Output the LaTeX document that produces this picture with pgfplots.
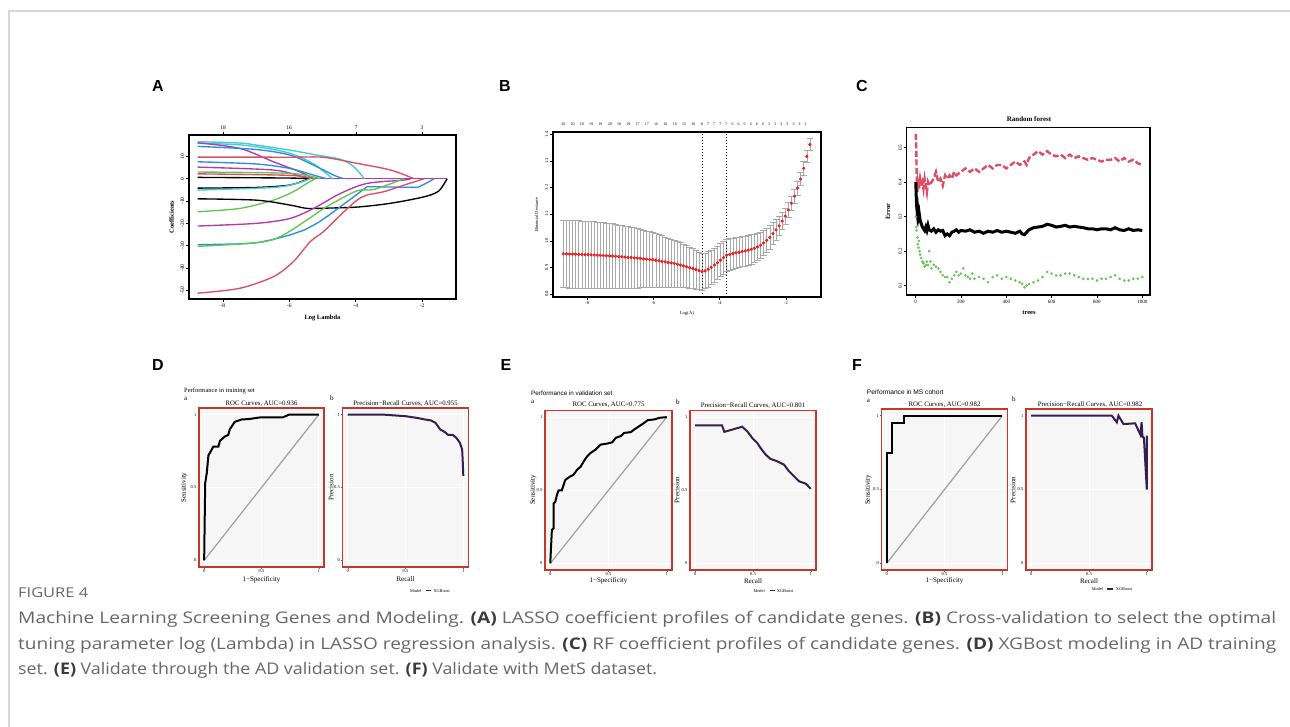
\documentclass[border=0pt]{standalone}
\usepackage{pgfplots}
\pgfplotsset{compat=1.18}
\usepackage{pgfplotstable}
\usepackage{fontspec}
\usepackage{graphicx}
\setmainfont{Liberation Serif}
\newfontfamily\arial{Liberation Sans}
\newfontfamily\capfont{Open Sans}
\newcommand{\fs}[1]{\fontsize{#1}{#1}\selectfont}
\definecolor{rred}{HTML}{DC4E65}
\definecolor{rgreen}{HTML}{5FC84E}
\definecolor{rblue}{HTML}{2A8FDB}
\definecolor{rcyan}{HTML}{45CAD3}
\definecolor{rmag}{HTML}{B23AAE}
\definecolor{ggframe}{HTML}{C0392B}
\definecolor{panelbg}{HTML}{F6F6F6}
\definecolor{diag}{HTML}{A39E99}
\definecolor{prline}{HTML}{33204F}
\definecolor{capgray}{HTML}{666666}
\definecolor{capdark}{HTML}{3A3A3A}
\definecolor{bordergray}{HTML}{D6D6D6}
\definecolor{cvred}{HTML}{F22020}
\definecolor{cvgray}{HTML}{A8A8A8}

\pgfplotsset{
 rstyle/.style={scale only axis, anchor=south west, axis line style={black, line width=1.1pt},
   tick align=outside, tick pos=left, major tick length=3pt,
   tick style={black, line width=0.5pt},
   yticklabel style={rotate=90, anchor=south, inner sep=1.5pt},
   xticklabel style={inner sep=1.5pt}},
 gg/.style={scale only axis, anchor=south west,
   axis background/.style={fill=panelbg},
   xmin=-0.045, xmax=1.045, ymin=-0.045, ymax=1.045,
   xtick={0,0.5,1}, ytick={0,0.5,1}, xticklabels={0,0.5,1}, yticklabels={0,0.5,1},
   xmajorgrids=true, ymajorgrids=true, major grid style={white, line width=1pt},
   axis line style={ggframe, line width=1.6pt},
   tick align=outside, tick pos=left, major tick length=1.5pt,
   tick style={black!60, line width=0.4pt},
   ticklabel style={font=\fs{4.5}, inner sep=1pt}},
 lasso/.style={line width=1.35pt},
}

\pgfplotstableread{
x y e
-8.720 .951 .127
-8.627 .951 .127
-8.534 .950 .127
-8.441 .950 .127
-8.348 .950 .127
-8.255 .949 .127
-8.162 .949 .126
-8.069 .948 .126
-7.976 .948 .126
-7.883 .947 .125
-7.790 .947 .125
-7.697 .946 .124
-7.604 .945 .124
-7.511 .945 .123
-7.418 .944 .122
-7.325 .943 .122
-7.232 .943 .121
-7.139 .942 .120
-7.046 .941 .119
-6.953 .940 .118
-6.860 .939 .117
-6.767 .938 .116
-6.674 .937 .115
-6.581 .936 .113
-6.488 .935 .112
-6.395 .934 .110
-6.302 .932 .108
-6.209 .931 .106
-6.116 .930 .104
-6.023 .929 .102
-5.930 .927 .100
-5.837 .925 .098
-5.744 .923 .096
-5.651 .921 .094
-5.558 .919 .092
-5.465 .917 .090
-5.372 .915 .088
-5.279 .912 .086
-5.186 .909 .084
-5.093 .906 .081
-5.000 .903 .079
-4.907 .899 .077
-4.814 .896 .075
-4.721 .892 .073
-4.628 .888 .070
-4.535 .884 .068
-4.442 .887 .067
-4.349 .893 .066
-4.256 .900 .065
-4.163 .909 .064
-4.070 .918 .063
-3.977 .927 .062
-3.884 .937 .061
-3.791 .946 .060
-3.698 .949 .059
-3.605 .952 .058
-3.512 .955 .058
-3.419 .957 .057
-3.326 .960 .057
-3.233 .962 .056
-3.140 .965 .056
-3.047 .968 .055
-2.954 .972 .054
-2.861 .977 .052
-2.768 .983 .050
-2.675 .992 .048
-2.582 1.002 .046
-2.489 1.013 .044
-2.396 1.027 .041
-2.303 1.041 .038
-2.210 1.056 .035
-2.117 1.074 .032
-2.024 1.093 .030
-1.931 1.116 .029
-1.838 1.141 .028
-1.745 1.168 .027
-1.652 1.198 .026
-1.559 1.232 .025
-1.466 1.272 .025
-1.373 1.317 .024
-1.280 1.362 .023
}\cvdata

\newcommand{\capone}{Machine Learning Screening Genes and Modeling. \textcolor{capdark}{\textbf{(A)}} LASSO coefficient profiles of candidate genes. \textcolor{capdark}{\textbf{(B)}} Cross-validation to select the optimal}
\newcommand{\captwo}{tuning parameter log (Lambda) in LASSO regression analysis. \textcolor{capdark}{\textbf{(C)}} RF coefficient profiles of candidate genes. \textcolor{capdark}{\textbf{(D)}} XGBost modeling in AD training}
\newcommand{\capthree}{set. \textcolor{capdark}{\textbf{(E)}} Validate through the AD validation set. \textcolor{capdark}{\textbf{(F)}} Validate with MetS dataset.}

\begin{document}
\begin{tikzpicture}
\path[use as bounding box] (0pt,0pt) rectangle (1290pt,-727pt);
\fill[white] (0pt,0pt) rectangle (1290pt,-727pt);

% ---------------- A: LASSO coefficient paths
\begin{axis}[rstyle, at={(189pt,-299pt)}, width=267pt, height=164pt,
  xmin=-9.02, xmax=-0.98, ymin=-53.9, ymax=19.6,
  xtick={-8,-6,-4,-2}, xticklabels={-8,-6,-4,-2},
  ytick={-50,-40,-30,-20,-10,0,10}, yticklabels={-50,-40,-30,-20,-10,0,10},
  ticklabel style={font=\fs{5.5}}]
\addplot[rmag, lasso] coordinates {(-5.6,0)(-1.25,0)};
\addplot[rcyan, lasso, smooth] coordinates {(-8.76,16.6)(-7.5,16.0)(-6.99,15.1)(-5.98,12.8)(-5.17,10.6)(-4.46,8.7)(-4.06,5.4)(-3.74,0)};
\addplot[rcyan, lasso, smooth] coordinates {(-8.76,15.9)(-7.5,15.2)(-6.5,13.2)(-5.8,10.5)(-5.2,6)(-4.7,0)};
\addplot[rmag, lasso, smooth] coordinates {(-8.76,16.1)(-7.49,13.6)(-6.48,7.6)(-5.68,3.1)(-5.27,0)};
\addplot[rblue, lasso, smooth] coordinates {(-8.76,14.5)(-6.99,13.1)(-5.98,10.6)(-5.27,6.1)(-4.66,1.6)(-4.36,0)};
\addplot[rred, lasso, smooth] coordinates {(-8.76,9.7)(-6,9.65)(-4.97,9.6)(-3.96,6.9)(-2.95,3.9)(-2.24,0)};
\addplot[rblue, lasso, smooth] coordinates {(-8.76,7.6)(-6.99,6.6)(-5.98,4.6)(-5.27,1.6)(-4.87,0)};
\addplot[rmag, lasso, smooth] coordinates {(-8.76,5.2)(-6.48,3.9)(-5.68,1.2)(-5.37,0)};
\addplot[rgreen, lasso, smooth] coordinates {(-8.76,3.0)(-5.98,2.4)(-5.07,0)};
\addplot[rred, lasso, smooth] coordinates {(-8.76,2.2)(-5.98,1.5)(-5.27,0)};
\addplot[black, lasso, smooth] coordinates {(-8.76,0.6)(-5.98,0.3)(-5.47,0)};
\addplot[black, lasso, smooth] coordinates {(-8.76,-4.2)(-6.99,-3.9)(-5.98,-2.8)(-5.42,0)};
\addplot[rcyan, lasso, smooth] coordinates {(-8.76,-5.1)(-6.48,-3.9)(-5.78,-2.1)(-5.37,0)};
\addplot[rgreen, lasso, smooth] coordinates {(-8.76,-14.8)(-7.49,-13.3)(-6.48,-9.6)(-5.88,-5.8)(-5.47,-2.1)(-5.22,0)};
\addplot[black, lasso, smooth] coordinates {(-8.76,-9)(-6.99,-9.6)(-5.98,-11.8)(-5.47,-13.3)(-4.97,-13.2)(-3.96,-12.7)(-2.95,-11.0)(-1.94,-8.1)(-1.5,-5.5)(-1.25,0)};
\addplot[rmag, lasso, smooth] coordinates {(-8.76,-21.2)(-6.99,-20)(-5.98,-17.8)(-5.27,-13.3)(-4.46,-6.6)(-3.66,-2.1)(-2.55,-0.6)(-2.35,0)};
\addplot[rblue, lasso] coordinates {(-8.76,-29.6)(-7.5,-29.2)(-6.99,-28.7)(-6.5,-27.3)(-5.98,-25.2)(-5.55,-23)(-5.17,-20)(-4.8,-16.3)(-4.46,-12.5)(-4.05,-8)(-3.66,-3.6)(-3.45,-3.6)(-2.14,-3.9)(-1.9,-2.2)(-1.64,0)};
\addplot[rgreen, lasso, smooth] coordinates {(-8.76,-30.3)(-6.99,-28.7)(-6.28,-26)(-5.47,-18.5)(-4.87,-12.5)(-3.96,-5.4)(-3.45,-4.8)(-2.55,0)};
\addplot[rred, lasso, smooth] coordinates {(-8.76,-51.3)(-7.49,-49.1)(-6.48,-43.9)(-5.88,-37.2)(-5.37,-28.2)(-4.97,-23.7)(-4.46,-16.3)(-3.96,-9.6)(-3.66,-7.3)(-3.15,-5.8)(-2.45,-2.4)(-1.94,0)};
\end{axis}

% ---------------- B: cross-validation
\begin{axis}[rstyle, at={(553pt,-297pt)}, width=268pt, height=165pt,
  xmin=-9.03, xmax=-0.945, ymin=0.789, ymax=1.4086,
  xtick={-8,-6,-4,-2}, xticklabels={-8,-6,-4,-2},
  ytick={0.8,0.9,1.0,1.1,1.2,1.3,1.4}, yticklabels={0.8,0.9,1.0,1.1,1.2,1.3,1.4},
  ticklabel style={font=\fs{4.5}}]
\addplot[only marks, mark=*, mark size=1.25pt, color=cvred,
  error bars/.cd, y dir=both, y explicit, error mark=none,
  error bar style={cvgray, line width=0.5pt}]
  table[x=x, y=y, y error=e] {\cvdata};
\addplot[only marks, mark=-, mark size=3.3pt, cvgray, mark options={line width=0.6pt}]
  table[x=x, y expr=\thisrow{y}+\thisrow{e}] {\cvdata};
\addplot[only marks, mark=-, mark size=3.3pt, cvgray, mark options={line width=0.6pt}]
  table[x=x, y expr=\thisrow{y}-\thisrow{e}] {\cvdata};
\addplot[only marks, mark=*, mark size=1.25pt, color=cvred]
  table[x=x, y=y] {\cvdata};
\draw[black, dotted, line width=1pt] (axis cs:-4.535,0.789) -- (axis cs:-4.535,1.4086);
\draw[black, dotted, line width=1pt] (axis cs:-3.791,0.789) -- (axis cs:-3.791,1.4086);
\end{axis}

% ---------------- C: random forest
\begin{axis}[rstyle, at={(906.7pt,-295pt)}, width=243.3pt, height=167.3pt,
  xmin=-39, xmax=1034, ymin=0.073, ymax=0.558,
  xtick={0,200,400,600,800,1000}, xticklabels={0,200,400,600,800,1000},
  ytick={0.1,0.2,0.3,0.4,0.5}, yticklabels={0.1,0.2,0.3,0.4,0.5},
  ticklabel style={font=\fs{5}}]
\addplot[rred, line width=2.4pt, dash pattern=on 6pt off 2.5pt] coordinates {(1,0.54)(3,0.50)(5,0.42)(8,0.37)(10,0.40)(15,0.38)(20,0.41)(25,0.39)(30,0.40)(35,0.38)(40,0.41)(45,0.39)(50,0.37)(55,0.40)(60,0.39)(70,0.40)(80,0.41)(90,0.43)(100,0.40)(110,0.41)(120,0.39)(130,0.42)(140,0.41)(150,0.42)(160,0.41)(170,0.43)(180,0.42)(200,0.43)(220,0.44)(240,0.43)(260,0.44)(280,0.43)(300,0.44)(320,0.45)(340,0.44)(360,0.45)(380,0.45)(400,0.44)(420,0.45)(440,0.46)(460,0.45)(480,0.46)(490,0.45)(500,0.47)(520,0.48)(540,0.49)(560,0.48)(580,0.49)(600,0.48)(620,0.475)(640,0.48)(660,0.47)(680,0.48)(700,0.47)(720,0.475)(740,0.47)(760,0.465)(780,0.47)(800,0.465)(820,0.46)(840,0.465)(860,0.465)(880,0.47)(900,0.46)(920,0.47)(940,0.46)(960,0.465)(980,0.455)(1000,0.45)};
\addplot[only marks, mark=*, mark size=1.1pt, rgreen] coordinates {(1,0.30)(3,0.27)(5,0.26)(8,0.24)(10,0.22)(13,0.21)(15,0.23)(18,0.2)(20,0.19)(25,0.18)(30,0.17)(35,0.165)(40,0.155)(45,0.16)(50,0.17)(55,0.16)(60,0.2)(65,0.17)(70,0.15)(80,0.16)(90,0.155)(100,0.15)(110,0.14)(120,0.13)(130,0.125)(140,0.125)(150,0.11)(160,0.12)(170,0.13)(180,0.14)(190,0.13)(200,0.135)(210,0.15)(220,0.13)(230,0.125)(240,0.12)(250,0.135)(260,0.12)(280,0.125)(300,0.12)(320,0.11)(340,0.125)(360,0.13)(380,0.12)(400,0.125)(420,0.12)(440,0.115)(460,0.11)(470,0.105)(480,0.095)(490,0.1)(500,0.105)(520,0.11)(540,0.115)(560,0.125)(580,0.14)(600,0.135)(620,0.13)(640,0.13)(660,0.135)(680,0.135)(700,0.13)(720,0.125)(740,0.12)(760,0.12)(780,0.12)(800,0.115)(820,0.12)(840,0.12)(860,0.125)(880,0.13)(900,0.12)(920,0.115)(940,0.115)(960,0.12)(980,0.12)(1000,0.125)};
\addplot[black, line width=3pt] coordinates {(1,0.40)(3,0.36)(5,0.33)(8,0.31)(10,0.32)(13,0.30)(16,0.31)(20,0.29)(25,0.28)(30,0.27)(35,0.265)(40,0.26)(45,0.27)(50,0.26)(55,0.275)(60,0.262)(70,0.258)(80,0.265)(90,0.255)(100,0.262)(110,0.258)(120,0.26)(130,0.245)(140,0.25)(150,0.245)(160,0.255)(170,0.258)(180,0.262)(190,0.255)(200,0.26)(220,0.258)(240,0.262)(260,0.255)(280,0.258)(300,0.252)(320,0.258)(340,0.255)(360,0.26)(380,0.255)(400,0.258)(420,0.255)(440,0.252)(460,0.258)(470,0.25)(480,0.248)(490,0.255)(500,0.262)(520,0.268)(540,0.27)(560,0.272)(580,0.278)(600,0.275)(620,0.27)(640,0.272)(660,0.275)(680,0.27)(700,0.272)(720,0.27)(740,0.268)(760,0.265)(780,0.265)(800,0.262)(820,0.265)(840,0.265)(860,0.262)(880,0.268)(900,0.262)(920,0.26)(940,0.265)(960,0.26)(980,0.262)(1000,0.26)};
\end{axis}

% ---------------- D
\begin{axis}[gg, at={(199pt,-567pt)}, width=125pt, height=159pt]
\addplot[diag, line width=1.2pt] coordinates {(0,0)(1,1)};
\addplot[black, line width=2pt] coordinates {(0,0)(0.005,0.3)(0.009,0.53)(0.023,0.6)(0.037,0.72)(0.066,0.76)(0.08,0.78)(0.124,0.78)(0.138,0.82)(0.181,0.85)(0.21,0.86)(0.224,0.9)(0.267,0.95)(0.325,0.966)(0.397,0.97)(0.483,0.98)(0.684,0.98)(0.713,0.99)(0.741,1)(1,1)};
\end{axis}
\begin{axis}[gg, at={(342.5pt,-567pt)}, width=126pt, height=159pt]
\addplot[prline, line width=2pt] coordinates {(0,1)(0.3,1)(0.5,0.989)(0.6,0.977)(0.67,0.966)(0.72,0.96)(0.76,0.943)(0.8,0.898)(0.84,0.88)(0.87,0.86)(0.91,0.86)(0.94,0.84)(0.97,0.807)(0.99,0.761)(0.995,0.682)(1.0,0.58)};
\end{axis}

% ---------------- E
\begin{axis}[gg, at={(545pt,-570pt)}, width=127pt, height=159.5pt]
\addplot[diag, line width=1.2pt] coordinates {(0,0)(1,1)};
\addplot[black, line width=2pt] coordinates {(0,0)(0.014,0.229)(0.029,0.24)(0.029,0.41)(0.043,0.42)(0.058,0.469)(0.072,0.5)(0.1,0.5)(0.115,0.538)(0.13,0.572)(0.173,0.595)(0.2,0.606)(0.23,0.64)(0.26,0.66)(0.288,0.698)(0.317,0.732)(0.346,0.755)(0.389,0.778)(0.432,0.812)(0.49,0.819)(0.533,0.828)(0.562,0.858)(0.605,0.87)(0.634,0.892)(0.692,0.897)(0.72,0.915)(0.764,0.938)(0.807,0.961)(0.836,0.979)(0.893,0.984)(0.937,0.995)(1,1)};
\end{axis}
\begin{axis}[gg, at={(690pt,-570pt)}, width=126pt, height=159.5pt]
\addplot[prline, line width=2pt] coordinates {(0,0.943)(0.232,0.943)(0.252,0.899)(0.406,0.934)(0.449,0.904)(0.493,0.858)(0.536,0.824)(0.565,0.789)(0.609,0.744)(0.652,0.714)(0.71,0.698)(0.768,0.675)(0.812,0.629)(0.855,0.595)(0.899,0.561)(0.957,0.545)(1.0,0.51)};
\end{axis}

% ---------------- F
\begin{axis}[gg, at={(881.5pt,-570pt)}, width=126pt, height=161pt]
\addplot[diag, line width=1.2pt] coordinates {(0,0)(1,1)};
\addplot[black, line width=2pt] coordinates {(0,0)(0,0.75)(0.049,0.75)(0.049,0.95)(0.149,0.95)(0.149,1)(1,1)};
\end{axis}
\begin{axis}[gg, at={(1026pt,-570pt)}, width=126pt, height=161pt]
\addplot[prline, line width=2pt] coordinates {(0,1)(0.697,1)(0.741,0.955)(0.755,1)(0.798,0.943)(0.899,0.948)(0.945,0.87)(0.955,0.955)(0.962,0.86)(0.975,0.85)(1.0,0.5)(1.0,0.864)};
\end{axis}

% ---------------- text, frame, caption
\begin{scope}[x=1pt, y=-1pt]
\draw[bordergray, line width=1.6pt] (9,727) -- (9,11) -- (1290,11);
\foreach \px/\py/\t in {158/86/A, 505/86/B, 862/86/C, 158/365/D, 506/365/E, 857/365/F}
  \node[font=\arial\bfseries\fs{16}] at (\px,\py) {\t};

% A texts
\foreach \px/\l in {223/18, 289/16, 356/7, 422/3} {
  \draw[line width=0.5pt] (\px,135) -- (\px,132);
  \node[font=\fs{5.5}] at (\px,128) {\l};
}
\node[font=\bfseries\fs{6.5}] at (322.5,318) {Log Lambda};
\node[font=\bfseries\fs{6.5}, rotate=90] at (171.7,217) {Coefficients};

% B texts
\foreach \i/\l in {0/20,1/20,2/18,3/19,4/19,5/20,6/18,7/19,8/17,9/17,10/16,11/16,12/16,13/15,14/10}
  \node[font=\fs{4}] at ({563.3+9.29*\i},124) {\l};
\foreach \i/\l in {0/8,1/7,2/7,3/7,4/7,5/6,6/6,7/6,8/6,9/6,10/6,11/3,12/3,13/3,14/3,15/3,16/2,17/1}
  \node[font=\fs{4}] at ({702+6.1*\i},124) {\l};
\node[font=\fs{4.5}] at (687,313) {Log($\lambda$)};
\node[font=\fs{4.5}, rotate=90] at (536.7,214.5) {Binomial Deviance};

% C texts
\node[font=\bfseries\fs{7}] at (1029,119.3) {Random forest};
\node[font=\bfseries\fs{6.5}, rotate=90] at (888,211.3) {Error};
\node[font=\bfseries\fs{6.5}] at (1029,313) {trees};

% D texts
\node[anchor=west, font=\fs{6.5}, inner sep=0] at (184,390.5) {Performance in training set};
\node[anchor=west, font=\fs{7}, inner sep=0] at (184,398.5) {a};
\node[anchor=west, font=\fs{7}, inner sep=0] at (330,398.5) {b};
\node[font=\fs{6.8}] at (261.5,403.3) {ROC Curves, AUC=0.936};
\node[font=\fs{6.8}] at (405.5,403.3) {Precision−Recall Curves, AUC=0.955};
\node[font=\fs{7}] at (261.5,579.5) {1−Specificity};
\node[font=\fs{7}] at (405.5,579.5) {Recall};
\node[font=\fs{7}, rotate=90] at (184.3,487.5) {Sensitivity};
\node[font=\fs{7}, rotate=90] at (331,487.5) {Precision};
\node[anchor=west, font=\fs{4.3}, inner sep=0] at (410,590.7) {Model};
\draw[prline, line width=1.5pt] (426,590.7) -- (431,590.7);
\node[anchor=west, font=\fs{4.3}, inner sep=0] at (433.3,590.7) {XGBoost};

% E texts
\node[anchor=west, font=\arial\fs{6.3}, inner sep=0] at (531,393.3) {Performance in validation set};
\node[anchor=west, font=\fs{7}, inner sep=0] at (531,401.7) {a};
\node[anchor=west, font=\fs{7}, inner sep=0] at (676,401.7) {b};
\node[font=\fs{6.8}] at (608.5,405) {ROC Curves, AUC=0.775};
\node[font=\fs{6.8}] at (753,405.5) {Precision−Recall Curves, AUC=0.801};
\node[font=\fs{7}] at (608.5,581) {1−Specificity};
\node[font=\fs{7}] at (753,581) {Recall};
\node[font=\fs{7}, rotate=90] at (533.3,490) {Sensitivity};
\node[font=\fs{7}, rotate=90] at (677,490) {Precision};
\node[anchor=west, font=\fs{4.3}, inner sep=0] at (753.3,590.7) {Model};
\draw[prline, line width=1.5pt] (769.5,590.7) -- (775,590.7);
\node[anchor=west, font=\fs{4.3}, inner sep=0] at (776.7,590.7) {XGBoost};

% F texts
\node[anchor=west, font=\arial\fs{6.6}, inner sep=0] at (866.7,391.7) {Performance in MS cohort};
\node[anchor=west, font=\fs{7}, inner sep=0] at (866.7,400.7) {a};
\node[anchor=west, font=\fs{7}, inner sep=0] at (1012,399.3) {b};
\node[font=\fs{6.8}] at (944.5,404.3) {ROC Curves, AUC=0.982};
\node[font=\fs{6.8}] at (1090,404.5) {Precision−Recall Curves, AUC=0.982};
\node[font=\fs{7}] at (944.5,581) {1−Specificity};
\node[font=\fs{7}] at (1089,581) {Recall};
\node[font=\fs{7}, rotate=90] at (868.3,490) {Sensitivity};
\node[font=\fs{7}, rotate=90] at (1013,490) {Precision};
\node[anchor=west, font=\fs{4.3}, inner sep=0] at (1091.7,589) {Model};
\draw[prline, line width=1.5pt] (1107,589) -- (1113,589);
\node[anchor=west, font=\fs{4.3}, inner sep=0] at (1115.7,589) {XGBoost};

% caption
\node[anchor=west, inner sep=0, text=capgray] at (18,593) {\resizebox{70pt}{\height}{\capfont\fs{13.5}FIGURE 4}};
\node[anchor=west, inner sep=0, text=capgray] at (18,619) {\resizebox{1258pt}{\height}{\capfont\fs{16}\capone}};
\node[anchor=west, inner sep=0, text=capgray] at (18,645) {\resizebox{1258pt}{\height}{\capfont\fs{16}\captwo}};
\node[anchor=west, inner sep=0, text=capgray] at (18,670) {\resizebox{639pt}{\height}{\capfont\fs{16}\capthree}};
\end{scope}
\end{tikzpicture}
\end{document}
